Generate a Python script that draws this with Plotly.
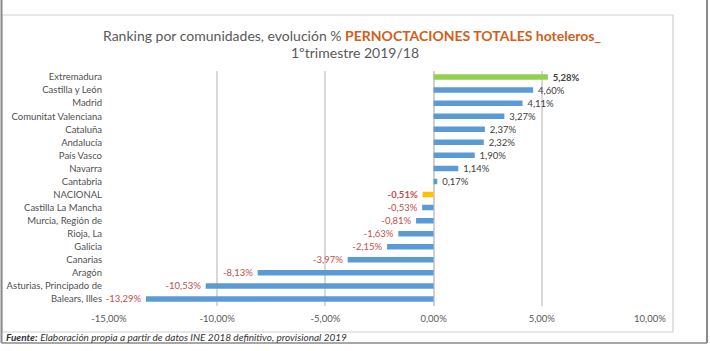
import plotly.graph_objects as go

W, H = 710, 351

categories = ["Extremadura", "Castilla y León", "Madrid", "Comunitat Valenciana", "Cataluña",
              "Andalucía", "País Vasco", "Navarra", "Cantabria", "NACIONAL",
              "Castilla La Mancha", "Murcia, Región de", "Rioja, La", "Galicia", "Canarias",
              "Aragón", "Asturias, Principado de", "Balears, Illes"]
values = [5.28, 4.60, 4.11, 3.27, 2.37, 2.32, 1.90, 1.14, 0.17, -0.51,
          -0.53, -0.81, -1.63, -2.15, -3.97, -8.13, -10.53, -13.29]
tick_vals = [-15, -10, -5, 0, 5, 10]
tick_text = ["-15,00%", "-10,00%", "-5,00%", "0,00%", "5,00%", "10,00%"]

BLUE, GREEN, YELLOW = "#5b9bd5", "#92d050", "#ffc000"
NB = "\u00a0\u00a0"
colors = []
labels = []
label_colors = []
for c, v in zip(categories, values):
    s = f"{v:.2f}%".replace(".", ",")
    if c in ("Extremadura", "NACIONAL"):
        s = f"<b>{s}</b>"
    s = NB + s if v >= 0 else s + NB
    labels.append(s)
    colors.append(GREEN if c == "Extremadura" else YELLOW if c == "NACIONAL" else BLUE)
    label_colors.append("#404040" if v >= 0 else "#c0504d")

FONT = "Lato, Arial, sans-serif"

fig = go.Figure(go.Bar(
    x=values, y=categories, orientation="h",
    marker=dict(color=colors, line=dict(width=0)),
    width=0.42,
    text=labels, textposition="outside", constraintext="none",
    textfont=dict(family=FONT, size=9.5, color=label_colors),
    cliponaxis=False,
))

def px(x):
    return x / W

def py(y):
    return 1 - y / H

fig.update_layout(
    width=W, height=H,
    margin=dict(l=0, r=0, t=0, b=0, autoexpand=False),
    paper_bgcolor="white", plot_bgcolor="white",
    showlegend=False,
    xaxis=dict(
        domain=[px(109), px(650)], range=[-15, 10],
        tickvals=tick_vals, ticktext=tick_text,
        showgrid=True, gridcolor="#d9d9d9", gridwidth=1.5,
        zeroline=True, zerolinecolor="#d0d0d0", zerolinewidth=1.5,
        showline=False, ticks="", automargin=False,
        tickfont=dict(family=FONT, size=9.5, color="#595959"),
        ticklabelstandoff=6,
    ),
    yaxis=dict(
        domain=[py(305.5), py(70.5)],
        autorange="reversed", automargin=False,
        showgrid=False, zeroline=False, showline=False, ticks="",
        tickfont=dict(family=FONT, size=9.5, color="#505050"),
        ticklabelstandoff=6,
    ),
    annotations=[
        dict(x=px(352), y=py(35), xref="paper", yref="paper", showarrow=False,
             xanchor="center", yanchor="middle",
             text="Ranking por comunidades, evolución % <b><span style='color:#d0601a'>PERNOCTACIONES TOTALES hoteleros_</span></b>",
             font=dict(family=FONT, size=14, color="#595959")),
        dict(x=px(355), y=py(52), xref="paper", yref="paper", showarrow=False,
             xanchor="center", yanchor="middle",
             text="1ºtrimestre 2019/18",
             font=dict(family=FONT, size=14, color="#595959")),
        dict(x=px(4), y=py(337), xref="paper", yref="paper", showarrow=False,
             xanchor="left", yanchor="middle",
             text="<b><i>Fuente:</i></b> <i>Elaboración propia a partir de datos INE 2018 definitivo, provisional 2019</i>",
             font=dict(family=FONT, size=10, color="#333333")),
    ],
    shapes=[
        dict(type="rect", xref="paper", yref="paper", x0=px(2), x1=px(673), y0=py(332), y1=py(15),
             line=dict(color="#d0d0d0", width=1.2), fillcolor="rgba(0,0,0,0)", layer="below"),
        dict(type="line", xref="paper", yref="paper", x0=px(1.5), x1=px(1.5), y0=py(0), y1=py(343),
             line=dict(color="#8a8a8a", width=2)),
        dict(type="line", xref="paper", yref="paper", x0=px(707), x1=px(707), y0=py(0), y1=py(343),
             line=dict(color="#8a8a8a", width=2)),
        dict(type="line", xref="paper", yref="paper", x0=px(1.5), x1=px(707), y0=py(343), y1=py(343),
             line=dict(color="#8a8a8a", width=1.5)),
    ],
)

fig.write_html("out.html")
